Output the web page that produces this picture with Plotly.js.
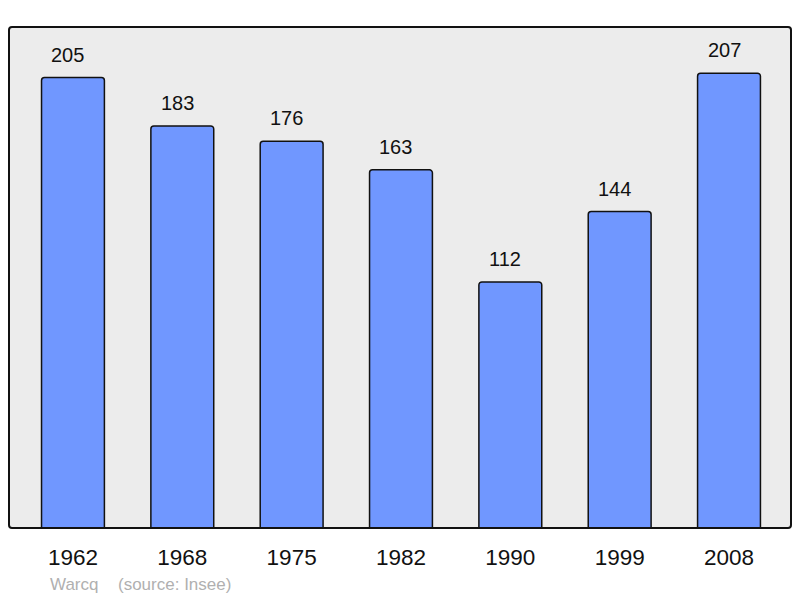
<!DOCTYPE html>
<html>
<head>
<meta charset="utf-8">
<script src="https://cdn.plot.ly/plotly-3.0.1.min.js"></script>
<style>
html,body{margin:0;padding:0;background:#fff;}
#chart{width:800px;height:598px;}
</style>
</head>
<body>
<div id="chart"></div>
<script>
const years = ["1962", "1968", "1975", "1982", "1990", "1999", "2008"];
const population = [205, 183, 176, 163, 112, 144, 207];
const placeName = "Warcq";
const sourceText = "(source: Insee)";

const L = 9, R = 791, T = 27, B = 528;
const W = 800, H = 598;
const pw = R - L, ph = B - T;
const r = 3;
const rx = r / pw, ry = r / ph;
const borderPath =
  `M ${rx} 0 L ${1 - rx} 0 Q 1 0 1 ${ry} L 1 ${1 - ry} Q 1 1 ${1 - rx} 1 ` +
  `L ${rx} 1 Q 0 1 0 ${1 - ry} L 0 ${ry} Q 0 0 ${rx} 0 Z`;

const trace = {
  type: "bar",
  x: years,
  y: population,
  width: 0.575,
  marker: {
    color: "#7097ff",
    line: { color: "#111", width: 1.5 },
    cornerradius: 3
  },
  hoverinfo: "none"
};

const annotations = years.map((yr, i) => ({
  x: i, y: population[i], xref: "x", yref: "y",
  text: String(population[i]),
  showarrow: false, xanchor: "center", yanchor: "bottom",
  xshift: -5, yshift: 10,
  font: { family: "Liberation Sans, Arial, sans-serif", size: 20, color: "#111" }
}));
annotations.push({
  x: (48 - L) / pw, y: (B - 584) / ph, xref: "paper", yref: "paper",
  text: placeName, showarrow: false, xanchor: "left", yanchor: "middle",
  font: { family: "Liberation Sans, Arial, sans-serif", size: 17, color: "#b0b0b0" }
});
annotations.push({
  x: (116 - L) / pw, y: (B - 584) / ph, xref: "paper", yref: "paper",
  text: sourceText, showarrow: false, xanchor: "left", yanchor: "middle",
  font: { family: "Liberation Sans, Arial, sans-serif", size: 17, color: "#b0b0b0" }
});

const layout = {
  width: W, height: H,
  margin: { l: L, r: W - R, t: T, b: H - B, pad: 0 },
  paper_bgcolor: "#ffffff",
  plot_bgcolor: "#ececec",
  showlegend: false,
  xaxis: {
    type: "category",
    range: [-0.585, 6.567],
    showgrid: false, zeroline: false, showline: false,
    ticks: "outside", ticklen: 9, tickcolor: "rgba(0,0,0,0)",
    tickfont: { family: "Liberation Sans, Arial, sans-serif", size: 22.5, color: "#111" },
    fixedrange: true
  },
  yaxis: {
    range: [0, 228],
    showgrid: false, zeroline: false, showline: false,
    showticklabels: false, ticks: "",
    fixedrange: true
  },
  shapes: [{
    type: "path", xref: "paper", yref: "paper",
    path: borderPath,
    line: { color: "#111", width: 2 },
    fillcolor: "rgba(0,0,0,0)",
    layer: "above"
  }],
  annotations: annotations
};

Plotly.newPlot("chart", [trace], layout, { displayModeBar: false, staticPlot: true });
</script>
</body>
</html>
